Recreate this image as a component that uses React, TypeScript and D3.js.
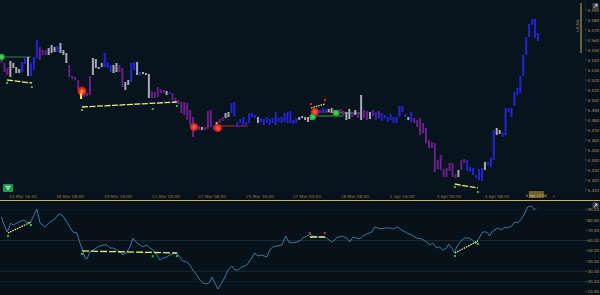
import React from "react";
import * as d3 from "d3";

// ---- main price bars (high, low, colour class) ----
const barHigh = [4543,4537,4532,4539,4537,4533,4531,4538,4543,4543,4537,4543,4560,4553,4550,4550,4552,4555,4553,4554,4557,4550,4547,4535,4524,4523,4520,4510,4507,4507,4524,4542,4541,4533,4537,4547,4538,4535,4535,4537,4535,4532,4518,4520,4537,4538,4538,4528,4528,4527,4526,4509,4508,4513,4511,4510,4509,4508,4507,4502,4500,4498,4498,4497,4490,4483,4474,4474,4473,4473,4489,4490,4475,4478,4481,4483,4487,4488,4497,4498,4478,4481,4483,4478,4487,4487,4485,4483,4482,4481,4483,4481,4482,4488,4482,4483,4487,4488,4489,4480,4482,4483,4484,4483,4483,4485,4487,4488,4490,4492,4491,4491,4492,4490,4490,4491,4489,4488,4491,4488,4490,4488,4505,4490,4489,4488,4490,4488,4489,4487,4485,4483,4486,4483,4483,4494,4494,4486,4483,4488,4482,4480,4482,4477,4472,4460,4458,4457,4440,4445,4431,4432,4437,4437,4426,4430,4440,4441,4440,4433,4432,4425,4431,4432,4438,4438,4442,4470,4472,4470,4468,4492,4492,4492,4508,4512,4524,4545,4563,4576,4581,4581,4567];
const barLow = [4537,4528,4525,4523,4532,4527,4527,4528,4536,4524,4524,4530,4542,4540,4545,4545,4545,4547,4548,4548,4547,4545,4537,4523,4521,4520,4510,4501,4503,4504,4505,4525,4532,4531,4533,4533,4532,4528,4527,4528,4528,4513,4510,4515,4518,4530,4525,4525,4526,4525,4502,4502,4502,4503,4507,4507,4505,4506,4500,4498,4496,4487,4485,4480,4475,4463,4470,4470,4470,4470,4471,4473,4470,4475,4477,4479,4482,4483,4487,4483,4473,4477,4474,4475,4477,4483,4482,4477,4478,4475,4477,4475,4477,4475,4478,4477,4478,4477,4477,4476,4477,4480,4482,4480,4478,4480,4482,4483,4487,4487,4488,4488,4487,4487,4486,4487,4485,4480,4481,4483,4485,4482,4480,4482,4480,4481,4484,4480,4482,4479,4482,4478,4480,4477,4477,4483,4488,4483,4480,4478,4477,4473,4465,4467,4457,4452,4452,4428,4431,4430,4423,4423,4429,4423,4422,4423,4430,4437,4429,4428,4425,4422,4420,4419,4430,4435,4433,4440,4465,4466,4463,4465,4488,4483,4494,4505,4507,4524,4545,4563,4575,4562,4559];
const barColor = "pppggggbbgbbbpppgggbgggpppp" + "ypppggggbbbggppggbbgbggg" + "pppppgbppppppppppgppppgpp" + "ggbbbbbbbbbgbbbbbbbbbbbbbgggggbbbbbgggg" + "ppggpgpgppgpbpbbbbbbbbbgbpppppppppppppppgpp" + "bbbbbbgbbbggbbbbbbbbbbbbbbbb";

// ---- signals ----
const sigRedIdx = [27.3, 65.3, 73.4, 106.3];
const sigRedPrice = [4509, 4473, 4472, 4488];
const sigRedBright = [1, 0.5, 0.4, 0.3];
const sigGreenIdx = [0, 105.6, 113.5];
const sigGreenPrice = [4543, 4483, 4487];

// horizontal signal levels
const levelStart = [0, 73.4, 105.6, 107.4, 113.5];
const levelEnd = [10, 83.6, 116, 116, 121.6];
const levelPrice = [4543, 4474, 4484, 4488, 4487];
const levelColor = ["#3d8f45", "#d02828", "#3fae3f", "#c92a2a", "#3fae3f"];

// divergence lines (price panel)
const divStart = [1.9, 27.3, 105, 153.8];
const divEnd = [10.3, 59.5, 109.7, 161.6];
const divPriceA = [4520, 4493, 4492, 4416];
const divPriceB = [4517, 4498, 4496, 4412];
const divMarkRed = [false, false, true, false];

// divergence lines (oscillator panel)
const oDivStart = [2.2, 27.3, 104.6, 153.8];
const oDivEnd = [10, 59.5, 109.7, 161.6];
const oDivA = [67.3, 49.8, 63.4, 47.8];
const oDivB = [78, 47.8, 63.4, 59.5];

// oscillator line
const oscIdx = [0,0.5,1.9,3.2,3.9,7.3,8.6,9.7,10.7,12,13.1,14.7,16.4,18.1,19.5,20.8,22.2,23.2,24.2,25.6,26.6,27.6,28.3,29,30,31,32.7,34.4,35.8,36.8,37.8,39.2,40.2,41.2,42.5,43.6,44.6,45.9,47,48,49.3,50.3,51.4,52.7,53.7,54.7,56.1,57.1,58.1,59.5,60.5,61.5,62.9,63.9,64.9,66.3,67.3,68.3,69.7,70.7,71.4,72.4,73.4,74.7,75.8,76.8,78.1,79.2,80.2,81.5,83.2,84.9,85.9,87,88.3,90,91,92,93.4,95.1,96.4,97.5,98.8,100.2,101.2,102.2,103.6,104.6,105.6,107.3,109,110.3,112,113.7,115.4,117.1,118.1,119.2,120.5,121.5,122.5,123.9,125.6,126.6,127.6,129,130,131.7,132.7,134.4,135.8,137.5,139.2,140.8,142.5,144.2,145.3,146.3,147.6,148.6,149.7,151,151.7,153,153.7,154.4,155.8,157.1,158.5,159.8,160.8,162.2,163.2,164.6,165.6,166.6,168.3,169.7,170.7,171.7,173.1,174.1,175.1,176.4,177.5,178.5,179.8,180.8,181.5];
const oscVal = [82.9,78,68.3,77.1,75.1,80,78,77.1,82.9,90.7,77.1,73.2,78,81,85.9,83.9,78,73.2,68.3,67.3,57.6,50.7,42.9,42,48.8,50.7,53.7,55.6,55.6,52.7,52.7,50.7,48.8,45.9,48.8,53.7,62.4,57.6,55.6,53.7,55.6,52.7,50.7,45.9,41,42.9,43.9,45.9,46.8,47.8,43.9,40,39,36.1,31.2,26.3,21.5,18.5,17.6,19.5,24.4,18.5,12.7,18.5,24.4,31.2,35.1,31.2,31.2,34.1,36.1,42.9,47.8,44.9,45.9,43.9,50.7,53.7,54.6,55.6,64.4,58.5,57.6,58.5,59.5,62.4,64.4,66.3,64.4,63.4,63.4,62.4,58.5,62.4,64.4,62.4,58.5,63.4,62.4,61.5,64.4,66.3,68.3,73.2,72.2,71.2,72.2,72.2,71.2,73.2,70.2,67.3,65.4,62.4,61.5,58.5,55.6,57.6,52.7,53.7,50.7,52.7,56.6,51.7,47.8,53.7,59.5,62.4,62.4,60.5,56.6,63.4,68.3,68.3,64.4,69.3,72.2,70.2,73.2,72.2,74.1,78,77.1,81,86.8,92.7,93.7,89.8,91.7];

// ---- axes ----
const priceTicks = [4590,4580,4570,4560,4550,4540,4530,4520,4510,4500,4490,4480,4470,4460,4450,4440,4430,4420,4410];
const oscTicks = [90,80,70,60,50,40,30,20,10];
const oscGrid = [90, 60, 30, 20];
const oscGridStrong = [false, true, true, false];
const dateIdx = [7.3, 23.2, 39.5, 55.8, 71.4, 87.7, 103.6, 119.9, 135.9, 151.8, 168.1];
const dateLabels = ["14 Mar 16:00","18 Mar 08:00","19 Mar 16:00","21 Mar 00:00","22 Mar 08:00","25 Mar 16:00","27 Mar 00:00","28 Mar 08:00","1 Apr 16:00","3 Apr 00:00","4 Apr 08:00"];
const lastDateIdx = 181.6;
const lastDateLabel = "5 Apr 12:00";

const COLORS: Record<string, string> = { b: "#2424d6", p: "#6c1f8c", g: "#a9a9b4", y: "#ffe45a" };

export default function App() {
  const W = 600, H = 295;
  const n = barHigh.length;
  const x = d3.scaleLinear().domain([0, n - 1]).range([1.5, 538]);
  const py = d3.scaleLinear().domain([4400, 4600]).range([200, 0]);
  const oy = d3.scaleLinear().domain([0, 100]).range([302, 199.5]);
  const oscLine = d3.line<number>().x((_, i) => x(oscIdx[i])).y((v) => oy(v));
  const fmtP = (v: number) => (v / 1000).toFixed(3);
  const fmtO = (v: number) => v.toFixed(2);
  const font = "'DejaVu Sans', sans-serif";

  const bars = barHigh.map((h, i) => ({ i, h, l: barLow[i], c: barColor[i] || "b" }));

  return (
    <div>
      <style>{`body{margin:0;background:#06111a;}`}</style>
      <svg width={W} height={H} style={{ display: "block", background: "#06111a" }}>
        <defs>
          <radialGradient id="rg1" cx="50%" cy="55%" r="50%">
            <stop offset="0%" stopColor="#ffe040" />
            <stop offset="40%" stopColor="#ff4a18" />
            <stop offset="100%" stopColor="#c41414" />
          </radialGradient>
          <radialGradient id="rg2" cx="50%" cy="50%" r="50%">
            <stop offset="0%" stopColor="#ff6a4a" />
            <stop offset="100%" stopColor="#c81616" />
          </radialGradient>
          <radialGradient id="gg" cx="50%" cy="50%" r="50%">
            <stop offset="0%" stopColor="#56e060" />
            <stop offset="100%" stopColor="#1c9a2c" />
          </radialGradient>
        </defs>
        {/* plot area */}
        <rect x={0} y={0} width={585} height={193} fill="#07141e" />
        <line x1={585.5} x2={585.5} y1={0} y2={193} stroke="#0f1f2a" />

        {/* levels */}
        {levelStart.map((s, k) => (
          <line key={"lv" + k} x1={x(s)} x2={x(levelEnd[k])} y1={py(levelPrice[k])} y2={py(levelPrice[k])} stroke={levelColor[k]} strokeWidth={1} opacity={0.9} />
        ))}

        {/* bars */}
        {bars.map((b) => (
          <rect key={"b" + b.i} x={x(b.i) - 1} y={py(b.h)} width={2} height={Math.max(1, py(b.l) - py(b.h))} fill={COLORS[b.c]} />
        ))}

        {/* divergences on price */}
        {divStart.map((s, k) => (
          <g key={"dv" + k}>
            <line x1={x(s)} x2={x(divEnd[k])} y1={py(divPriceA[k])} y2={py(divPriceB[k])} stroke="#e6f27a" strokeWidth={1.3} strokeDasharray={k === 2 ? "1.5,1" : "6,1.5"} />
            <rect x={x(s) - 1} y={py(divPriceA[k]) + (divMarkRed[k] ? -5 : 2)} width={2} height={2} fill={divMarkRed[k] ? "#e02a2a" : "#2fbf3f"} />
            <rect x={x(divEnd[k]) - 1} y={py(divPriceB[k]) + (divMarkRed[k] ? -5 : 3)} width={2} height={2} fill={divMarkRed[k] ? "#e02a2a" : "#2fbf3f"} />
          </g>
        ))}
        <rect x={x(51.3) - 1} y={py(4495) + 3} width={2} height={2} fill="#2fbf3f" />

        {/* signals */}
        {sigRedIdx.map((s, k) => (
          <circle key={"sr" + k} cx={x(s)} cy={py(sigRedPrice[k])} r={k === 0 ? 4.5 : 4} fill={sigRedBright[k] > 0.8 ? "url(#rg1)" : "url(#rg2)"} />
        ))}
        {sigGreenIdx.map((s, k) => (
          <circle key={"sg" + k} cx={x(s)} cy={py(sigGreenPrice[k])} r={3.3} fill="url(#gg)" />
        ))}
        {bars.filter((b) => b.c === "y").map((b) => (
          <rect key={"yb" + b.i} x={x(b.i) - 0.8} y={py(b.h) + 3} width={1.6} height={Math.max(1, py(b.l) - py(b.h) - 3)} fill={COLORS.y} />
        ))}

        {/* right price axis */}
        {priceTicks.map((t) => (
          <g key={"pt" + t}>
            <line x1={585.5} x2={587} y1={py(t)} y2={py(t)} stroke="#8f8455" strokeWidth={0.6} />
            <text x={587.5} y={py(t) + 1.5} fontSize={4.1} fill="#a99a5e" fontFamily={font}>{fmtP(t)}</text>
          </g>
        ))}
        <line x1={581} x2={581} y1={3} y2={53} stroke="#c8ad52" strokeWidth={1} />
        <text x={0} y={0} fontSize={4} fill="#c8ad52" fontFamily={font} transform="translate(579,33) rotate(-90)">+3.5%</text>
        <rect x={592.5} y={3} width={6} height={6} fill="#3a4650" />
        <path d="M594 7.5 L597 4.5 M595 4.5 H597 V6.5" stroke="#e8e8e8" strokeWidth={0.8} fill="none" />

        {/* date labels */}
        {dateIdx.map((d, k) => (
          <text key={"dl" + k} x={x(d)} y={197.5} fontSize={4.2} fill="#8e7f4e" textAnchor="middle" fontFamily={font}>{dateLabels[k]}</text>
        ))}
        <rect x={x(lastDateIdx) - 8} y={191} width={15} height={7} fill="#6e5e2c" />
        <text x={x(lastDateIdx) - 0.5} y={196.5} fontSize={3.6} fill="#e0c878" textAnchor="middle" fontFamily={font}>{lastDateLabel}</text>
        <text x={552} y={197.5} fontSize={4.5} fill="#8e7f4e" fontFamily={font}>+</text>

        {/* button */}
        <rect x={3} y={184} width={10} height={8} rx={1} fill="#1a9b52" />
        <path d="M5.5 186.5 H10.5 M6.5 188 H9.5 M8 188 V190" stroke="#ffffff" strokeWidth={0.9} />

        {/* separator */}
        <line x1={0} x2={600} y1={200.5} y2={200.5} stroke="#c8b063" strokeWidth={1.2} />

        {/* oscillator grid */}
        {oscGrid.map((g, k) => (
          <line key={"og" + k} x1={0} x2={585} y1={oy(g)} y2={oy(g)} stroke={oscGridStrong[k] ? "#1b2933" : "#0f1c26"} strokeWidth={1} />
        ))}
        <path d={oscLine(oscVal) || ""} fill="none" stroke="#3a7aa3" strokeWidth={1} />

        {/* divergences on oscillator */}
        {oDivStart.map((s, k) => (
          <g key={"od" + k}>
            <line x1={x(s)} x2={x(oDivEnd[k])} y1={oy(oDivA[k])} y2={oy(oDivB[k])} stroke="#e6f27a" strokeWidth={1.3} strokeDasharray={k === 0 || k === 3 ? "1.5,1" : "7,2"} />
            <rect x={x(s) - 1} y={oy(oDivA[k]) + (k === 2 ? -5 : 2)} width={2} height={2} fill={k === 2 ? "#e02a2a" : "#2fbf3f"} />
            <rect x={x(oDivEnd[k]) - 1} y={oy(oDivB[k]) + (k === 2 ? -5 : 2)} width={2} height={2} fill={k === 2 ? "#e02a2a" : "#2fbf3f"} />
          </g>
        ))}
        <rect x={x(51.3) - 1} y={oy(48.5) + 3} width={2} height={2} fill="#2fbf3f" />

        {/* oscillator axis */}
        {oscTicks.map((t) => (
          <g key={"ot" + t}>
            <line x1={585.5} x2={587} y1={oy(t)} y2={oy(t)} stroke="#8f8455" strokeWidth={0.6} />
            <text x={587.5} y={oy(t) + 1.5} fontSize={4.1} fill="#a99a5e" fontFamily={font}>{fmtO(t)}</text>
          </g>
        ))}
        <rect x={592.5} y={202.5} width={6} height={6} fill="#3a4650" />
        <path d="M594 207 L597 204 M595 204 H597 V206" stroke="#e8e8e8" strokeWidth={0.8} fill="none" />
      </svg>
    </div>
  );
}
